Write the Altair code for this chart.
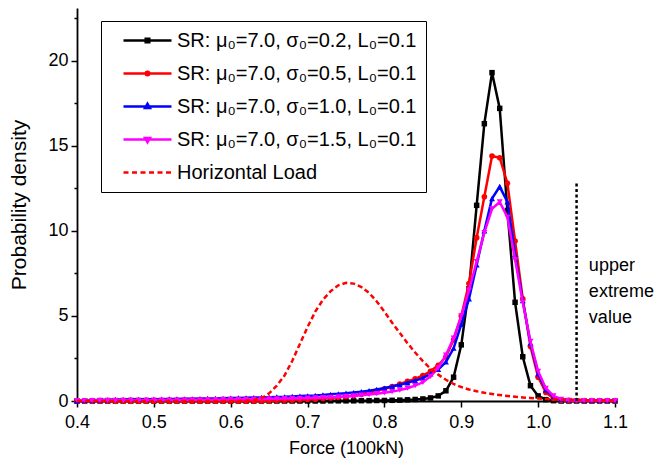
import altair as alt
import pandas as pd

# ---------------- data ----------------
x_vals = [round(0.40 + 0.01 * i, 2) for i in range(71)]

sr_02 = [
    0, 0, 0, 0, 0, 0, 0, 0, 0, 0,
    0, 0, 0, 0, 0, 0, 0, 0, 0, 0,
    0, 0, 0, 0, 0, 0, 0, 0, 0, 0,
    0, 0, 0, 0.01, 0.01, 0.01, 0.01, 0.02, 0.02, 0.03,
    0.03, 0.04, 0.05, 0.07, 0.09, 0.12, 0.18, 0.3, 0.6, 1.4,
    3.3, 6.6, 11.5, 16.3, 19.3, 17.2, 11.2, 5.8, 2.6, 0.9,
    0.3, 0.08, 0.02, 0, 0, 0, 0, 0, 0, 0,
    0]
sr_05 = [
    0, 0, 0, 0, 0, 0, 0, 0, 0, 0,
    0, 0, 0, 0, 0, 0, 0, 0, 0, 0,
    0, 0, 0, 0, 0, 0.02, 0.03, 0.04, 0.05, 0.07,
    0.09, 0.11, 0.14, 0.18, 0.22, 0.27, 0.33, 0.4, 0.5, 0.6,
    0.72, 0.85, 1.0, 1.15, 1.3, 1.5, 1.75, 2.1, 2.6, 3.6,
    5.0, 6.9, 9.6, 12.0, 14.4, 14.3, 12.8, 9.4, 6.0, 3.2,
    1.4, 0.5, 0.15, 0.05, 0.02, 0.01, 0.01, 0.01, 0.01, 0.01,
    0.01]
sr_10 = [
    0, 0.03, 0.05, 0.07, 0.08, 0.09, 0.09, 0.1, 0.1, 0.1,
    0.11, 0.11, 0.12, 0.12, 0.13, 0.13, 0.14, 0.15, 0.15, 0.16,
    0.17, 0.18, 0.19, 0.2, 0.21, 0.22, 0.24, 0.25, 0.27, 0.29,
    0.31, 0.33, 0.36, 0.39, 0.42, 0.46, 0.5, 0.55, 0.61, 0.68,
    0.76, 0.85, 0.95, 1.07, 1.2, 1.35, 1.6, 1.85, 2.3, 3.1,
    4.5, 6.0, 8.0, 10.0, 11.9, 12.6, 11.7, 8.6, 5.9, 3.4,
    1.6, 0.65, 0.25, 0.1, 0.07, 0.06, 0.05, 0.05, 0.05, 0.05,
    0.05]
sr_15 = [
    0.03, 0.03, 0.03, 0.04, 0.04, 0.04, 0.04, 0.05, 0.05, 0.05,
    0.05, 0.06, 0.06, 0.06, 0.07, 0.07, 0.07, 0.08, 0.08, 0.09,
    0.09, 0.1, 0.1, 0.11, 0.12, 0.13, 0.13, 0.14, 0.15, 0.16,
    0.17, 0.18, 0.2, 0.22, 0.24, 0.27, 0.3, 0.34, 0.38, 0.43,
    0.48, 0.55, 0.64, 0.75, 0.9, 1.1, 1.45, 1.95, 2.7, 3.7,
    5.0, 6.5, 8.2, 9.9, 11.3, 11.7, 10.8, 8.3, 5.8, 3.5,
    1.75, 0.75, 0.3, 0.1, 0.04, 0.03, 0.03, 0.03, 0.03, 0.03,
    0.03]
load = [
    0, 0, 0, 0, 0, 0, 0, 0, 0, 0,
    0, 0, 0, 0, 0, 0, 0, 0, 0, 0,
    0, 0, 0.02, 0.06, 0.16, 0.45, 0.9, 1.5, 2.35, 3.35,
    4.35, 5.25, 5.95, 6.45, 6.8, 6.95, 6.9, 6.7, 6.35, 5.85,
    5.25, 4.6, 4.0, 3.4, 2.85, 2.35, 1.9, 1.55, 1.25, 1.0,
    0.82, 0.68, 0.57, 0.48, 0.41, 0.35, 0.3, 0.25, 0.21, 0.18,
    0.15, 0.12, 0.1, 0.08, 0.07, 0.06, 0.05, 0.04, 0.03, 0.03,
    0.02]

series_names = [
    "SR: μ₀=7.0, σ₀=0.2, L₀=0.1",
    "SR: μ₀=7.0, σ₀=0.5, L₀=0.1",
    "SR: μ₀=7.0, σ₀=1.0, L₀=0.1",
    "SR: μ₀=7.0, σ₀=1.5, L₀=0.1",
    "Horizontal Load",
]
series_colors = ["#000000", "#ff0000", "#0000ff", "#ff00ff", "#ff0000"]
marker_shapes = ["square", "circle", "triangle-up", "triangle-down"]

x_ticks = [0.4, 0.45, 0.5, 0.55, 0.6, 0.65, 0.7, 0.75, 0.8, 0.85, 0.9, 0.95, 1.0, 1.05, 1.1]
y_ticks = [0, 2.5, 5, 7.5, 10, 12.5, 15, 17.5, 20, 22.5]

extreme_x = [1.05]
extreme_top = [12.8]
annot_x = [1.066]
annot_y = [7.65]
annot_lines = ["upper", "extreme", "value"]

# ---------------- build ----------------
FONT = "Liberation Sans"
all_vals = [sr_02, sr_05, sr_10, sr_15, load]
frames = []
for name, vals in zip(series_names, all_vals):
    frames.append(pd.DataFrame({"series": name, "force": x_vals, "density": vals}))

x_major = "abs(datum.value*10 - round(datum.value*10)) < 0.001"
y_major = "abs(datum.value % 5) < 0.001"

x_enc = alt.X(
    "force:Q",
    scale=alt.Scale(domain=[0.4, 1.1], nice=False, zero=False),
    axis=alt.Axis(
        values=x_ticks,
        labelExpr=f"{x_major} ? format(datum.value, '.1f') : ''",
        tickSize={"condition": {"test": x_major, "value": 6}, "value": 3},
        labelFlush=False,
        title="Force (100kN)",
        titlePadding=8,
        labelPadding=6,
    ),
)
y_enc = alt.Y(
    "density:Q",
    scale=alt.Scale(domain=[0, 23.1], nice=False),
    axis=alt.Axis(
        values=y_ticks,
        labelExpr=f"{y_major} ? format(datum.value, 'd') : ''",
        tickSize={"condition": {"test": y_major, "value": 6}, "value": 3},
        labelFlush=False,
        title="Probability density",
        titleFontSize=21,
        titlePadding=18,
        labelPadding=3,
    ),
)

layers = []
marker_sizes = [30, 32, 36, 36]
for i in range(4):
    layers.append(
        alt.Chart(frames[i]).mark_line(
            color=series_colors[i], strokeWidth=2.5,
            point=alt.OverlayMarkDef(shape=marker_shapes[i], size=marker_sizes[i],
                                     filled=True, color=series_colors[i], opacity=1),
        ).encode(x=x_enc, y=y_enc)
    )

layers.append(
    alt.Chart(frames[4]).mark_line(color=series_colors[4], strokeWidth=2.5,
                                   strokeDash=[5, 3]).encode(x=x_enc, y=y_enc)
)

ref_df = pd.DataFrame({"force": extreme_x, "density": [0], "top": extreme_top})
layers.append(
    alt.Chart(ref_df).mark_rule(color="black", strokeWidth=2.5, strokeDash=[3, 2.5])
    .encode(x="force:Q", y="density:Q", y2="top:Q")
)

annot_df = pd.DataFrame({"force": annot_x, "density": annot_y})
layers.append(
    alt.Chart(annot_df).mark_text(
        text=annot_lines, align="left", baseline="alphabetic", font=FONT,
        fontSize=18, lineHeight=26, color="black",
    ).encode(x="force:Q", y="density:Q")
)

# legend symbols: line + marker drawn as one path per entry
line_path = "M-2.667,0H2.667"
legend_paths = [
    line_path + "M-0.2,-0.2H0.2V0.2H-0.2Z",
    line_path + "M0.2,0A0.2,0.2,0,1,1,-0.2,0A0.2,0.2,0,1,1,0.2,0Z",
    line_path + "M0,-0.3L0.27,0.17L-0.27,0.17Z",
    line_path + "M0,0.3L0.27,-0.17L-0.27,-0.17Z",
    "M-2.667,0H-2.111M-1.722,0H-1.167M-0.778,0H-0.222M0.167,0H0.722M1.111,0H1.667M2.056,0H2.611",
]
legend_def = alt.Legend(
    title=None, orient="none", legendX=24, legendY=13,
    strokeColor="black", fillColor="white", padding=9,
    symbolSize=324, symbolStrokeWidth=2.5, symbolOpacity=1,
    symbolOffset=27, labelOffset=19, rowPadding=12,
    labelFont=FONT, labelFontSize=20, labelColor="black", labelLimit=500,
)
legend_df = pd.DataFrame({"series": series_names, "force": [0.4] * 5, "density": [0.0] * 5})
layers.append(
    alt.Chart(legend_df).mark_point(opacity=0, filled=True).encode(
        x="force:Q", y="density:Q",
        shape=alt.Shape("series:N", scale=alt.Scale(domain=series_names, range=legend_paths),
                        legend=legend_def),
        fill=alt.Fill("series:N", scale=alt.Scale(domain=series_names, range=series_colors),
                      legend=legend_def),
        stroke=alt.Stroke("series:N", scale=alt.Scale(domain=series_names, range=series_colors),
                          legend=legend_def),
    )
)

chart = alt.layer(*layers).properties(
    width=538, height=393,
    autosize=alt.AutoSizeParams(type="none"),
    padding={"left": 69, "top": 0, "right": 40, "bottom": 60},
).configure_view(stroke=None).configure_axis(
    grid=False, domainColor="black", domainWidth=1.8, tickColor="black", tickWidth=1.5,
    labelFont=FONT, labelFontSize=18, labelColor="black",
    titleFont=FONT, titleFontSize=18, titleFontWeight="normal", titleColor="black",
)

chart.save("out.html", embed_options={"renderer": "svg", "actions": False})
